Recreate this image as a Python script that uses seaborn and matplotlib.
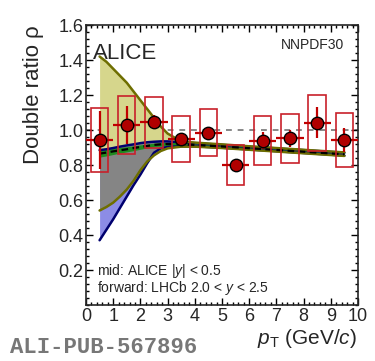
import numpy as np
import pandas as pd
import seaborn as sns
import matplotlib
matplotlib.use('Agg')
import matplotlib.pyplot as plt
from matplotlib.ticker import MultipleLocator

# dados medidos (razao dupla)
pt = [0.5, 1.5, 2.5, 3.5, 4.5, 5.5, 6.5, 7.5, 8.5, 9.5]
rho = [0.943, 1.03, 1.044, 0.95, 0.985, 0.80, 0.939, 0.952, 1.042, 0.943]
stat = [0.165, 0.11, 0.04, 0.03, 0.03, 0.03, 0.05, 0.05, 0.09, 0.07]
sys_err = [0.185, 0.165, 0.145, 0.13, 0.135, 0.115, 0.14, 0.14, 0.16, 0.157]

# bandas dos modelos
pt_band = [0.5, 0.75, 1.0, 1.25, 1.5, 1.75, 2.0, 2.25, 2.5, 2.75, 3.0, 3.5, 4, 5, 6, 7, 8, 9, 9.5]
amar_sup = [1.42, 1.39, 1.35, 1.31, 1.27, 1.22, 1.17, 1.12, 1.07, 1.02, 0.98, 0.935,
            0.928, 0.918, 0.907, 0.897, 0.887, 0.877, 0.872]
amar_inf = [0.54, 0.56, 0.585, 0.62, 0.66, 0.71, 0.77, 0.82, 0.855, 0.88, 0.895, 0.905,
            0.905, 0.897, 0.887, 0.877, 0.867, 0.857, 0.852]
azul_sup = [0.885, 0.89, 0.897, 0.905, 0.912, 0.918, 0.925, 0.93, 0.933, 0.935, 0.935, 0.93,
            0.925, 0.915, 0.905, 0.895, 0.885, 0.875, 0.87]
azul_inf = [0.37, 0.43, 0.49, 0.555, 0.62, 0.685, 0.745, 0.81, 0.87, 0.895, 0.903, 0.907,
            0.907, 0.899, 0.889, 0.879, 0.869, 0.859, 0.854]
verde_sup = [0.885, 0.89, 0.895, 0.9, 0.905, 0.91, 0.915, 0.92, 0.925, 0.928, 0.93, 0.928,
             0.922, 0.912, 0.902, 0.892, 0.882, 0.872, 0.867]
verde_inf = [0.845, 0.852, 0.86, 0.868, 0.875, 0.882, 0.89, 0.898, 0.905, 0.908, 0.91, 0.91,
             0.908, 0.9, 0.89, 0.88, 0.87, 0.86, 0.855]
central = [0.865, 0.871, 0.878, 0.884, 0.89, 0.897, 0.903, 0.909, 0.915, 0.918, 0.92, 0.918,
           0.915, 0.906, 0.896, 0.886, 0.876, 0.866, 0.861]

df = pd.DataFrame({'pt': pt, 'rho': rho})
xb = np.array(pt_band)

sns.set_style('ticks')
plt.rcParams['font.family'] = ['Liberation Sans', 'DejaVu Sans']
plt.rcParams['mathtext.fontset'] = 'custom'
plt.rcParams['mathtext.it'] = 'Liberation Sans:italic'
plt.rcParams['mathtext.rm'] = 'Liberation Sans'

fig = plt.figure(figsize=(3.75, 3.61), dpi=100)
ax = fig.add_axes([0.2293, 0.1551, 0.7253, 0.7756])

# bandas
ax.fill_between(xb, amar_inf, amar_sup, color='#d6d68c', lw=0, zorder=1)
ax.fill_between(xb, azul_inf, azul_sup, color='#8c8ce6', lw=0, zorder=1)
ax.fill_between(xb, np.maximum(amar_inf, azul_inf), np.minimum(amar_sup, azul_sup),
                color='#858585', lw=0, zorder=2)
ax.fill_between(xb, verde_inf, verde_sup, color='#1f8a1f', lw=0, zorder=3)
ax.plot(xb, azul_sup, color='#00006e', lw=1.8, zorder=4)
ax.plot(xb, azul_inf, color='#00006e', lw=1.8, zorder=4)
ax.plot(xb, amar_sup, color='#6e6e00', lw=1.8, zorder=5)
ax.plot(xb, amar_inf, color='#6e6e00', lw=1.8, zorder=5)
ax.plot(xb, central, color='black', lw=1.6, ls=(0, (3, 2)), zorder=6)

# linha de referencia
ax.axhline(1.0, color='#888888', lw=1.4, ls=(0, (3, 3)), zorder=0.5)

# sistematicos
ax.bar(pt, [2 * s for s in sys_err], bottom=[r - s for r, s in zip(rho, sys_err)],
       width=0.64, fill=False, edgecolor='#c8202a', lw=1.2, zorder=7)
# estatisticos
ax.errorbar(pt, rho, yerr=stat, xerr=0.5, fmt='none', ecolor='#c00000', elinewidth=1.6,
            capsize=0, zorder=8)
sns.scatterplot(data=df, x='pt', y='rho', ax=ax, s=80, color='#b00000',
                edgecolor='black', linewidth=1.0, zorder=9, legend=False)

ax.set_xlim(0, 10)
ax.set_ylim(0, 1.6)
ax.xaxis.set_major_locator(MultipleLocator(1))
ax.xaxis.set_minor_locator(MultipleLocator(0.2))
ax.yaxis.set_major_locator(MultipleLocator(0.2))
ax.yaxis.set_minor_locator(MultipleLocator(0.04))
ax.set_yticks([0.2, 0.4, 0.6, 0.8, 1.0, 1.2, 1.4, 1.6])
ax.set_yticklabels(['0.2', '0.4', '0.6', '0.8', '1.0', '1.2', '1.4', '1.6'])
ax.tick_params(which='both', direction='in', top=True, right=True, labelsize=13, pad=2,
               width=1.0, color='black')
ax.tick_params(which='major', length=5)
ax.tick_params(which='minor', length=2.5)
for s in ax.spines.values():
    s.set_linewidth(1.2)
ax.set_xlabel('')
ax.set_ylabel('')

fig.text(33 / 375, 1 - 95 / 361, 'Double ratio ρ', rotation=90, ha='center', va='center',
         fontsize=16)
fig.text(357 / 375, 1 - 338 / 361, r'$p_{\rm T}$ (GeV/$c$)', ha='right', va='center',
         fontsize=15)
ax.text(0.025, 0.9, 'ALICE', transform=ax.transAxes, fontsize=16, va='center', ha='left')
ax.text(0.95, 0.93, 'NNPDF30', transform=ax.transAxes, fontsize=10, va='center', ha='right')
ax.text(0.04, 0.12, r'mid: ALICE |$y$| < 0.5', transform=ax.transAxes, fontsize=10,
        va='center', ha='left')
ax.text(0.04, 0.06, r'forward: LHCb 2.0 < $y$ < 2.5', transform=ax.transAxes, fontsize=10,
        va='center', ha='left')
fig.text(10 / 375, 3 / 361, 'ALI-PUB-567896', family='Liberation Mono', fontweight='bold',
         color='#777777', fontsize=16, ha='left', va='bottom')

fig.savefig('out.png', dpi=100)
